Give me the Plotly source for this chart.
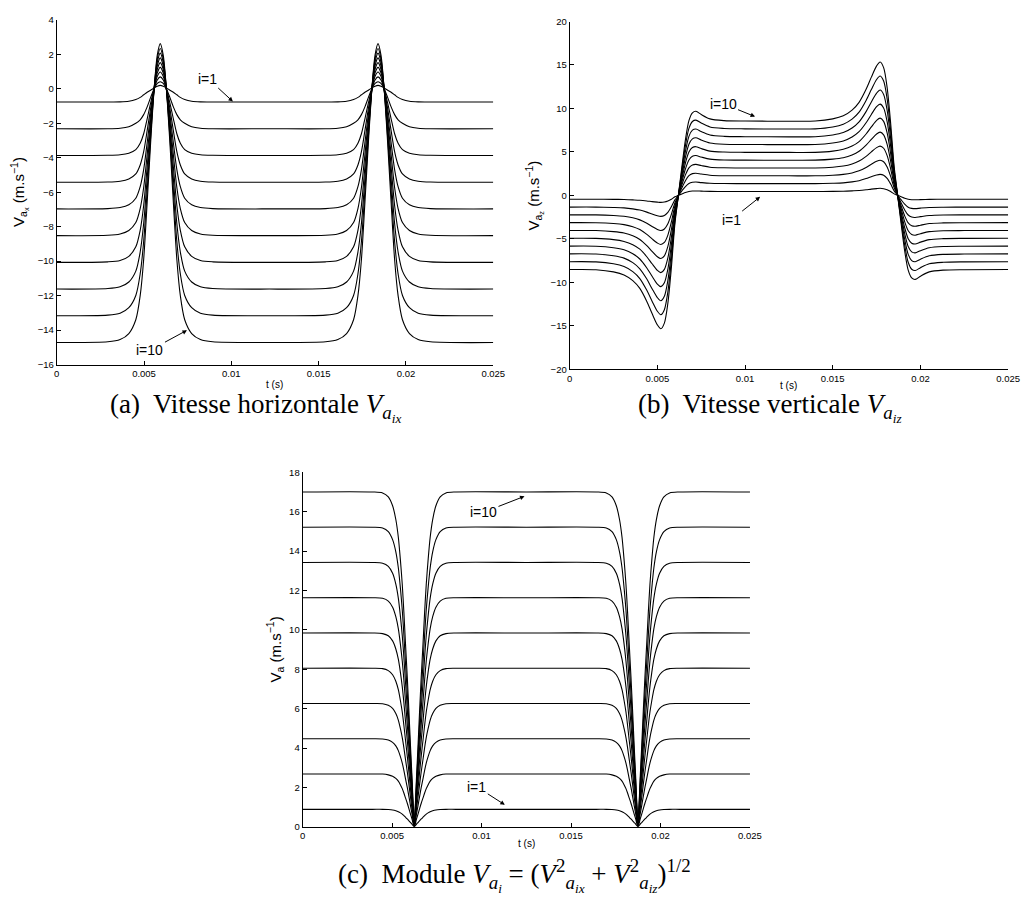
import plotly.graph_objects as go

# ---------------- (a) horizontal velocity V_a_x ----------------
T_A = [0, 0.00293, 0.00363, 0.00413, 0.00453, 0.00478, 0.00498, 0.00518, 0.00538, 0.00558, 0.00576,
       0.00593,
       0.0061, 0.00628, 0.00648, 0.00668, 0.00688, 0.00708, 0.00733, 0.00773, 0.00823, 0.00893,
       0.01217,
       0.0154, 0.0161, 0.0166, 0.0170, 0.01725, 0.01745, 0.01765, 0.01785, 0.01805, 0.01823,
       0.0184,
       0.01857, 0.01875, 0.01895, 0.01915, 0.01935, 0.01955, 0.0198, 0.0202, 0.0207, 0.0214,
       0.025]

VAX_I1 = [-0.77, -0.77, -0.76, -0.72, -0.62, -0.50, -0.35, -0.20, -0.08, 0.05, 0.15, 0.20, 0.15, 0.05, -0.08, -0.20, -0.35, -0.50, -0.62, -0.72, -0.76, -0.77,
          -0.77, -0.77, -0.76, -0.72, -0.62, -0.50, -0.35, -0.20, -0.08, 0.05, 0.15, 0.20, 0.15, 0.05, -0.08, -0.20, -0.35, -0.50, -0.62, -0.72, -0.76, -0.77, -0.77]
VAX_I2 = [-2.32, -2.32, -2.29, -2.20, -2.00, -1.80, -1.50, -1.05, -0.50, 0.00, 0.31, 0.41, 0.31, 0.00, -0.50, -1.05, -1.50, -1.80, -2.00, -2.20, -2.29, -2.32,
          -2.32, -2.32, -2.29, -2.20, -2.00, -1.80, -1.50, -1.05, -0.50, 0.00, 0.31, 0.41, 0.31, 0.00, -0.50, -1.05, -1.50, -1.80, -2.00, -2.20, -2.29, -2.32, -2.32]
VAX_I3 = [-3.87, -3.86, -3.83, -3.74, -3.53, -3.16, -2.61, -1.74, -0.82, 0.00, 0.51, 0.69, 0.51, 0.00, -0.82, -1.74, -2.61, -3.16, -3.53, -3.74, -3.83, -3.86,
          -3.87, -3.86, -3.83, -3.74, -3.53, -3.16, -2.61, -1.74, -0.82, 0.00, 0.51, 0.69, 0.51, 0.00, -0.82, -1.74, -2.61, -3.16, -3.53, -3.74, -3.83, -3.86, -3.87]
VAX_I4 = [-5.42, -5.41, -5.36, -5.23, -4.94, -4.42, -3.65, -2.43, -1.14, 0.00, 0.72, 0.97, 0.72, 0.00, -1.14, -2.43, -3.65, -4.42, -4.94, -5.23, -5.36, -5.41,
          -5.42, -5.41, -5.36, -5.23, -4.94, -4.42, -3.65, -2.43, -1.14, 0.00, 0.72, 0.97, 0.72, 0.00, -1.14, -2.43, -3.65, -4.42, -4.94, -5.23, -5.36, -5.41, -5.42]
VAX_I5 = [-6.97, -6.95, -6.89, -6.73, -6.35, -5.68, -4.69, -3.13, -1.47, 0.00, 0.92, 1.24, 0.92, 0.00, -1.47, -3.13, -4.69, -5.68, -6.35, -6.73, -6.89, -6.95,
          -6.97, -6.95, -6.89, -6.73, -6.35, -5.68, -4.69, -3.13, -1.47, 0.00, 0.92, 1.24, 0.92, 0.00, -1.47, -3.13, -4.69, -5.68, -6.35, -6.73, -6.89, -6.95, -6.97]
VAX_I6 = [-8.52, -8.50, -8.42, -8.22, -7.76, -6.95, -5.73, -3.82, -1.79, 0.00, 1.13, 1.52, 1.13, 0.00, -1.79, -3.82, -5.73, -6.95, -7.76, -8.22, -8.42, -8.50,
          -8.52, -8.50, -8.42, -8.22, -7.76, -6.95, -5.73, -3.82, -1.79, 0.00, 1.13, 1.52, 1.13, 0.00, -1.79, -3.82, -5.73, -6.95, -7.76, -8.22, -8.42, -8.50, -8.52]
VAX_I7 = [-10.07, -10.04, -9.96, -9.72, -9.17, -8.21, -6.77, -4.52, -2.12, 0.00, 1.33, 1.79, 1.33, 0.00, -2.12, -4.52, -6.77, -8.21, -9.17, -9.72, -9.96, -10.04,
          -10.07, -10.04, -9.96, -9.72, -9.17, -8.21, -6.77, -4.52, -2.12, 0.00, 1.33, 1.79, 1.33, 0.00, -2.12, -4.52, -6.77, -8.21, -9.17, -9.72, -9.96, -10.04, -10.07]
VAX_I8 = [-11.62, -11.59, -11.49, -11.21, -10.58, -9.47, -7.82, -5.21, -2.45, 0.00, 1.54, 2.07, 1.54, 0.00, -2.45, -5.21, -7.82, -9.47, -10.58, -11.21, -11.49, -11.59,
          -11.62, -11.59, -11.49, -11.21, -10.58, -9.47, -7.82, -5.21, -2.45, 0.00, 1.54, 2.07, 1.54, 0.00, -2.45, -5.21, -7.82, -9.47, -10.58, -11.21, -11.49, -11.59, -11.62]
VAX_I9 = [-13.17, -13.13, -13.02, -12.70, -11.99, -10.74, -8.86, -5.91, -2.77, 0.00, 1.74, 2.34, 1.74, 0.00, -2.77, -5.91, -8.86, -10.74, -11.99, -12.70, -13.02, -13.13,
          -13.17, -13.13, -13.02, -12.70, -11.99, -10.74, -8.86, -5.91, -2.77, 0.00, 1.74, 2.34, 1.74, 0.00, -2.77, -5.91, -8.86, -10.74, -11.99, -12.70, -13.02, -13.13, -13.17]
VAX_I10 = [-14.72, -14.68, -14.55, -14.20, -13.40, -12.00, -9.90, -6.60, -3.10, 0.00, 1.95, 2.62, 1.95, 0.00, -3.10, -6.60, -9.90, -12.00, -13.40, -14.20, -14.55, -14.68,
           -14.72, -14.68, -14.55, -14.20, -13.40, -12.00, -9.90, -6.60, -3.10, 0.00, 1.95, 2.62, 1.95, 0.00, -3.10, -6.60, -9.90, -12.00, -13.40, -14.20, -14.55, -14.68, -14.72]

# ---------------- (b) vertical velocity V_a_z ----------------
T_B = [0, 0.0015, 0.0025, 0.0031, 0.0036, 0.0040, 0.0044, 0.0047, 0.0050, 0.0052, 0.0054, 0.0056,
       0.0058, 0.0060, 0.0062, 0.0064, 0.0066, 0.0068, 0.0070, 0.0072, 0.0075, 0.0080, 0.0088, 0.0100,
       0.0125, 0.0140, 0.0150, 0.0156, 0.0161, 0.0165, 0.0169, 0.0172, 0.0175, 0.0177, 0.0179, 0.0181,
       0.0183, 0.0185, 0.0187, 0.0189, 0.0191, 0.0193, 0.0195, 0.0197, 0.0200, 0.0205, 0.0213, 0.0225,
       0.025]

VAZ_I1 = [-0.45, -0.45, -0.46, -0.48, -0.52, -0.56, -0.64, -0.72, -0.78, -0.81, -0.77, -0.65, -0.44, -0.17, 0.00, 0.17, 0.34, 0.45, 0.50, 0.51, 0.49, 0.46, 0.45, 0.45,
          0.45, 0.45, 0.46, 0.48, 0.52, 0.56, 0.64, 0.72, 0.78, 0.81, 0.77, 0.65, 0.44, 0.17, 0.00, -0.17, -0.34, -0.45, -0.50, -0.51, -0.49, -0.46, -0.45, -0.45, -0.45]
VAZ_I2 = [-1.35, -1.35, -1.39, -1.44, -1.55, -1.69, -1.93, -2.15, -2.35, -2.42, -2.32, -1.96, -1.31, -0.52, 0.00, 0.52, 1.01, 1.36, 1.50, 1.53, 1.47, 1.39, 1.36, 1.35,
          1.35, 1.35, 1.39, 1.44, 1.55, 1.69, 1.93, 2.15, 2.35, 2.42, 2.32, 1.96, 1.31, 0.52, 0.00, -0.52, -1.01, -1.36, -1.50, -1.53, -1.47, -1.39, -1.36, -1.35, -1.35]
VAZ_I3 = [-2.25, -2.25, -2.32, -2.41, -2.58, -2.82, -3.21, -3.58, -3.92, -4.04, -3.87, -3.26, -2.18, -0.87, 0.00, 0.87, 1.68, 2.26, 2.50, 2.54, 2.45, 2.32, 2.26, 2.25,
          2.25, 2.25, 2.32, 2.41, 2.58, 2.82, 3.21, 3.58, 3.92, 4.04, 3.87, 3.26, 2.18, 0.87, 0.00, -0.87, -1.68, -2.26, -2.50, -2.54, -2.45, -2.32, -2.26, -2.25, -2.25]
VAZ_I4 = [-3.14, -3.15, -3.24, -3.37, -3.61, -3.94, -4.49, -5.01, -5.49, -5.66, -5.42, -4.57, -3.06, -1.22, 0.00, 1.22, 2.36, 3.17, 3.50, 3.56, 3.43, 3.24, 3.17, 3.15,
          3.14, 3.15, 3.24, 3.37, 3.61, 3.94, 4.49, 5.01, 5.49, 5.66, 5.42, 4.57, 3.06, 1.22, 0.00, -1.22, -2.36, -3.17, -3.50, -3.56, -3.43, -3.24, -3.17, -3.15, -3.14]
VAZ_I5 = [-4.04, -4.05, -4.17, -4.33, -4.64, -5.07, -5.78, -6.44, -7.06, -7.27, -6.96, -5.87, -3.93, -1.56, 0.00, 1.56, 3.03, 4.07, 4.50, 4.58, 4.41, 4.17, 4.07, 4.05,
          4.04, 4.05, 4.17, 4.33, 4.64, 5.07, 5.78, 6.44, 7.06, 7.27, 6.96, 5.87, 3.93, 1.56, 0.00, -1.56, -3.03, -4.07, -4.50, -4.58, -4.41, -4.17, -4.07, -4.05, -4.04]
VAZ_I6 = [-4.94, -4.95, -5.09, -5.30, -5.67, -6.19, -7.06, -7.87, -8.63, -8.89, -8.51, -7.18, -4.81, -1.91, 0.00, 1.91, 3.71, 4.98, 5.50, 5.60, 5.38, 5.09, 4.98, 4.95,
          4.94, 4.95, 5.09, 5.30, 5.67, 6.19, 7.06, 7.87, 8.63, 8.89, 8.51, 7.18, 4.81, 1.91, 0.00, -1.91, -3.71, -4.98, -5.50, -5.60, -5.38, -5.09, -4.98, -4.95, -4.94]
VAZ_I7 = [-5.84, -5.85, -6.02, -6.26, -6.71, -7.32, -8.35, -9.31, -10.20, -10.50, -10.06, -8.48, -5.68, -2.26, 0.00, 2.26, 4.38, 5.88, 6.50, 6.62, 6.36, 6.02, 5.88, 5.85,
          5.84, 5.85, 6.02, 6.26, 6.71, 7.32, 8.35, 9.31, 10.20, 10.50, 10.06, 8.48, 5.68, 2.26, 0.00, -2.26, -4.38, -5.88, -6.50, -6.62, -6.36, -6.02, -5.88, -5.85, -5.84]
VAZ_I8 = [-6.73, -6.75, -6.95, -7.22, -7.74, -8.45, -9.63, -10.74, -11.76, -12.12, -11.61, -9.79, -6.55, -2.61, 0.00, 2.61, 5.05, 6.79, 7.50, 7.63, 7.34, 6.95, 6.79, 6.75,
          6.73, 6.75, 6.95, 7.22, 7.74, 8.45, 9.63, 10.74, 11.76, 12.12, 11.61, 9.79, 6.55, 2.61, 0.00, -2.61, -5.05, -6.79, -7.50, -7.63, -7.34, -6.95, -6.79, -6.75, -6.73]
VAZ_I9 = [-7.63, -7.65, -7.87, -8.19, -8.77, -9.57, -10.92, -12.17, -13.33, -13.73, -13.15, -11.10, -7.43, -2.95, 0.00, 2.95, 5.73, 7.70, 8.50, 8.65, 8.32, 7.87, 7.70, 7.65,
          7.63, 7.65, 7.87, 8.19, 8.77, 9.57, 10.92, 12.17, 13.33, 13.73, 13.15, 11.10, 7.43, 2.95, 0.00, -2.95, -5.73, -7.70, -8.50, -8.65, -8.32, -7.87, -7.70, -7.65, -7.63]
VAZ_I10 = [-8.53, -8.55, -8.80, -9.15, -9.80, -10.70, -12.20, -13.60, -14.90, -15.35, -14.70, -12.40, -8.30, -3.30, 0.00, 3.30, 6.40, 8.60, 9.50, 9.67, 9.30, 8.80, 8.60, 8.55,
           8.53, 8.55, 8.80, 9.15, 9.80, 10.70, 12.20, 13.60, 14.90, 15.35, 14.70, 12.40, 8.30, 3.30, 0.00, -3.30, -6.40, -8.60, -9.50, -9.67, -9.30, -8.80, -8.60, -8.55, -8.53]

# ---------------- (c) modulus V_a ----------------
T_C = [0,
       0.00391, 0.00447, 0.00479, 0.00503, 0.00521, 0.00535, 0.00547, 0.00557, 0.00566, 0.00575, 0.00585,
       0.00594, 0.00603, 0.00612, 0.00618, 0.00624,
       0.0063, 0.00636, 0.00645, 0.00654, 0.00663, 0.00673, 0.00682, 0.00691, 0.00701, 0.00713, 0.00727,
       0.00745, 0.00769, 0.00801, 0.00857,
       0.0125,
       0.01641, 0.01697, 0.01729, 0.01753, 0.01771, 0.01785, 0.01797, 0.01807, 0.01816, 0.01825, 0.01835,
       0.01844, 0.01853, 0.01862, 0.01868, 0.01874,
       0.0188, 0.01886, 0.01895, 0.01904, 0.01913, 0.01923, 0.01932, 0.01941, 0.01951, 0.01963, 0.01977,
       0.01995, 0.02019, 0.02051, 0.02107,
       0.025]

VA_I1 = [0.89, 0.89, 0.89, 0.88, 0.86, 0.82, 0.77, 0.71, 0.65, 0.57, 0.49, 0.40, 0.31, 0.22, 0.13, 0.06, 0.01,
         0.06, 0.13, 0.22, 0.31, 0.40, 0.49, 0.57, 0.65, 0.71, 0.77, 0.82, 0.86, 0.88, 0.89, 0.89, 0.89,
         0.89, 0.89, 0.88, 0.86, 0.82, 0.77, 0.71, 0.65, 0.57, 0.49, 0.40, 0.31, 0.22, 0.13, 0.06, 0.01,
         0.06, 0.13, 0.22, 0.31, 0.40, 0.49, 0.57, 0.65, 0.71, 0.77, 0.82, 0.86, 0.88, 0.89, 0.89, 0.89]
VA_I2 = [2.68, 2.68, 2.68, 2.64, 2.57, 2.46, 2.32, 2.13, 1.94, 1.72, 1.47, 1.20, 0.93, 0.65, 0.38, 0.17, 0.02,
         0.17, 0.38, 0.65, 0.93, 1.20, 1.47, 1.72, 1.94, 2.13, 2.32, 2.46, 2.57, 2.64, 2.68, 2.68, 2.68,
         2.68, 2.68, 2.64, 2.57, 2.46, 2.32, 2.13, 1.94, 1.72, 1.47, 1.20, 0.93, 0.65, 0.38, 0.17, 0.02,
         0.17, 0.38, 0.65, 0.93, 1.20, 1.47, 1.72, 1.94, 2.13, 2.32, 2.46, 2.57, 2.64, 2.68, 2.68, 2.68]
VA_I3 = [4.47, 4.47, 4.46, 4.41, 4.29, 4.11, 3.87, 3.55, 3.24, 2.87, 2.45, 2.00, 1.55, 1.08, 0.63, 0.29, 0.03,
         0.29, 0.63, 1.08, 1.55, 2.00, 2.45, 2.87, 3.24, 3.55, 3.87, 4.11, 4.29, 4.41, 4.46, 4.47, 4.47,
         4.47, 4.46, 4.41, 4.29, 4.11, 3.87, 3.55, 3.24, 2.87, 2.45, 2.00, 1.55, 1.08, 0.63, 0.29, 0.03,
         0.29, 0.63, 1.08, 1.55, 2.00, 2.45, 2.87, 3.24, 3.55, 3.87, 4.11, 4.29, 4.41, 4.46, 4.47, 4.47]
VA_I4 = [6.26, 6.26, 6.25, 6.17, 6.01, 5.75, 5.42, 4.97, 4.53, 4.02, 3.43, 2.80, 2.17, 1.51, 0.88, 0.41, 0.04,
         0.41, 0.88, 1.51, 2.17, 2.80, 3.43, 4.02, 4.53, 4.97, 5.42, 5.75, 6.01, 6.17, 6.25, 6.26, 6.26,
         6.26, 6.25, 6.17, 6.01, 5.75, 5.42, 4.97, 4.53, 4.02, 3.43, 2.80, 2.17, 1.51, 0.88, 0.41, 0.04,
         0.41, 0.88, 1.51, 2.17, 2.80, 3.43, 4.02, 4.53, 4.97, 5.42, 5.75, 6.01, 6.17, 6.25, 6.26, 6.26]
VA_I5 = [8.05, 8.05, 8.03, 7.93, 7.72, 7.39, 6.96, 6.39, 5.83, 5.16, 4.41, 3.60, 2.79, 1.94, 1.14, 0.52, 0.06,
         0.52, 1.14, 1.94, 2.79, 3.60, 4.41, 5.16, 5.83, 6.39, 6.96, 7.39, 7.72, 7.93, 8.03, 8.05, 8.05,
         8.05, 8.03, 7.93, 7.72, 7.39, 6.96, 6.39, 5.83, 5.16, 4.41, 3.60, 2.79, 1.94, 1.14, 0.52, 0.06,
         0.52, 1.14, 1.94, 2.79, 3.60, 4.41, 5.16, 5.83, 6.39, 6.96, 7.39, 7.72, 7.93, 8.03, 8.05, 8.05]
VA_I6 = [9.84, 9.84, 9.81, 9.70, 9.44, 9.03, 8.51, 7.82, 7.12, 6.31, 5.38, 4.40, 3.42, 2.37, 1.39, 0.64, 0.07,
         0.64, 1.39, 2.37, 3.42, 4.40, 5.38, 6.31, 7.12, 7.82, 8.51, 9.03, 9.44, 9.70, 9.81, 9.84, 9.84,
         9.84, 9.81, 9.70, 9.44, 9.03, 8.51, 7.82, 7.12, 6.31, 5.38, 4.40, 3.42, 2.37, 1.39, 0.64, 0.07,
         0.64, 1.39, 2.37, 3.42, 4.40, 5.38, 6.31, 7.12, 7.82, 8.51, 9.03, 9.44, 9.70, 9.81, 9.84, 9.84]
VA_I7 = [11.63, 11.63, 11.60, 11.46, 11.15, 10.67, 10.06, 9.24, 8.42, 7.46, 6.36, 5.20, 4.04, 2.81, 1.64, 0.75, 0.08,
         0.75, 1.64, 2.81, 4.04, 5.20, 6.36, 7.46, 8.42, 9.24, 10.06, 10.67, 11.15, 11.46, 11.60, 11.63, 11.63,
         11.63, 11.60, 11.46, 11.15, 10.67, 10.06, 9.24, 8.42, 7.46, 6.36, 5.20, 4.04, 2.81, 1.64, 0.75, 0.08,
         0.75, 1.64, 2.81, 4.04, 5.20, 6.36, 7.46, 8.42, 9.24, 10.06, 10.67, 11.15, 11.46, 11.60, 11.63, 11.63]
VA_I8 = [13.42, 13.42, 13.38, 13.22, 12.87, 12.32, 11.61, 10.66, 9.71, 8.61, 7.34, 6.00, 4.66, 3.24, 1.89, 0.87, 0.09,
         0.87, 1.89, 3.24, 4.66, 6.00, 7.34, 8.61, 9.71, 10.66, 11.61, 12.32, 12.87, 13.22, 13.38, 13.42, 13.42,
         13.42, 13.38, 13.22, 12.87, 12.32, 11.61, 10.66, 9.71, 8.61, 7.34, 6.00, 4.66, 3.24, 1.89, 0.87, 0.09,
         0.87, 1.89, 3.24, 4.66, 6.00, 7.34, 8.61, 9.71, 10.66, 11.61, 12.32, 12.87, 13.22, 13.38, 13.42, 13.42]
VA_I9 = [15.21, 15.21, 15.17, 14.99, 14.58, 13.96, 13.15, 12.08, 11.01, 9.75, 8.32, 6.80, 5.28, 3.67, 2.15, 0.98, 0.11,
         0.98, 2.15, 3.67, 5.28, 6.80, 8.32, 9.75, 11.01, 12.08, 13.15, 13.96, 14.58, 14.99, 15.17, 15.21, 15.21,
         15.21, 15.17, 14.99, 14.58, 13.96, 13.15, 12.08, 11.01, 9.75, 8.32, 6.80, 5.28, 3.67, 2.15, 0.98, 0.11,
         0.98, 2.15, 3.67, 5.28, 6.80, 8.32, 9.75, 11.01, 12.08, 13.15, 13.96, 14.58, 14.99, 15.17, 15.21, 15.21]
VA_I10 = [17.00, 17.00, 16.95, 16.75, 16.30, 15.60, 14.70, 13.50, 12.30, 10.90, 9.30, 7.60, 5.90, 4.10, 2.40, 1.10, 0.12,
          1.10, 2.40, 4.10, 5.90, 7.60, 9.30, 10.90, 12.30, 13.50, 14.70, 15.60, 16.30, 16.75, 16.95, 17.00, 17.00,
          17.00, 16.95, 16.75, 16.30, 15.60, 14.70, 13.50, 12.30, 10.90, 9.30, 7.60, 5.90, 4.10, 2.40, 1.10, 0.12,
          1.10, 2.40, 4.10, 5.90, 7.60, 9.30, 10.90, 12.30, 13.50, 14.70, 15.60, 16.30, 16.75, 16.95, 17.00, 17.00]

X_TICKS = [0, 0.005, 0.01, 0.015, 0.02, 0.025]
X_TICKTEXT = ["0", "0.005", "0.01", "0.015", "0.02", "0.025"]
YA_TICKS = [4, 2, 0, -2, -4, -6, -8, -10, -12, -14, -16]
YB_TICKS = [20, 15, 10, 5, 0, -5, -10, -15, -20]
YC_TICKS = [0, 2, 4, 6, 8, 10, 12, 14, 16, 18]

W, H = 1032, 902
SANS = "Liberation Sans, Arial, Helvetica, sans-serif"
SERIF = "Liberation Serif, Times New Roman, serif"

fig = go.Figure()
line = dict(color="black", width=1.1, shape="spline", smoothing=0.8)
for row in [VAX_I1, VAX_I2, VAX_I3, VAX_I4, VAX_I5, VAX_I6, VAX_I7, VAX_I8, VAX_I9, VAX_I10]:
    fig.add_trace(go.Scatter(x=T_A, y=row, mode="lines", line=line, xaxis="x", yaxis="y", hoverinfo="skip"))
for row in [VAZ_I1, VAZ_I2, VAZ_I3, VAZ_I4, VAZ_I5, VAZ_I6, VAZ_I7, VAZ_I8, VAZ_I9, VAZ_I10]:
    fig.add_trace(go.Scatter(x=T_B, y=row, mode="lines", line=line, xaxis="x2", yaxis="y2", hoverinfo="skip"))
for row in [VA_I1, VA_I2, VA_I3, VA_I4, VA_I5, VA_I6, VA_I7, VA_I8, VA_I9, VA_I10]:
    fig.add_trace(go.Scatter(x=T_C, y=row, mode="lines", line=line, xaxis="x3", yaxis="y3", hoverinfo="skip"))


def fmt(v):
    return str(v).replace("-", "\u2212")


def xax(domain, anchor):
    return dict(domain=domain, anchor=anchor, range=[0, 0.025], tickvals=X_TICKS, ticktext=X_TICKTEXT,
                ticks="inside", ticklen=4, tickwidth=1, tickcolor="black", showline=True, linecolor="black",
                linewidth=1, showgrid=False, zeroline=False, tickfont=dict(family=SANS, size=9.5, color="black"),
                fixedrange=True)


def yax(domain, anchor, rng, ticks):
    return dict(domain=domain, anchor=anchor, range=rng, tickvals=ticks, ticktext=[fmt(t) for t in ticks],
                ticks="inside", ticklen=4, tickwidth=1, tickcolor="black", showline=True, linecolor="black",
                linewidth=1, showgrid=False, zeroline=False, tickfont=dict(family=SANS, size=9.5, color="black"),
                fixedrange=True)


def px_x(p):
    return p / W


def px_y(p):
    return 1 - p / H


fig.update_layout(
    width=W, height=H, margin=dict(l=0, r=0, t=0, b=0),
    paper_bgcolor="white", plot_bgcolor="white", showlegend=False,
    xaxis=xax([px_x(54.5), px_x(497.5)], "y"),
    yaxis=yax([px_y(363), px_y(14)], "x", [-16, 4], YA_TICKS),
    xaxis2=xax([px_x(575), px_x(1020)], "y2"),
    yaxis2=yax([px_y(367.7), px_y(15.7)], "x2", [-20, 20], YB_TICKS),
    xaxis3=xax([px_x(304), px_x(758)], "y3"),
    yaxis3=yax([px_y(831), px_y(472)], "x3", [0, 18], YC_TICKS),
)

ann = []
# arrows with labels
arrow_style = dict(showarrow=True, arrowhead=2, arrowsize=0.9, arrowwidth=1, arrowcolor="black",
                   font=dict(family=SANS, size=14, color="black"), axref="pixel", ayref="pixel")
ann.append(dict(text="i=1", x=0.01009, y=-0.74, xref="x", yref="y", ax=-25, ay=-23, **arrow_style))
ann.append(dict(text="i=10", x=0.00746, y=-14.01, xref="x", yref="y", ax=-37, ay=20, **arrow_style))
ann.append(dict(text="i=10", x=0.01057, y=9.06, xref="x2", yref="y2", ax=-32, ay=-13, **arrow_style))
ann.append(dict(text="i=1", x=0.01086, y=-0.17, xref="x2", yref="y2", ax=-29, ay=23, **arrow_style))
ann.append(dict(text="i=10", x=0.0124, y=16.78, xref="x3", yref="y3", ax=-41, ay=16, **arrow_style))
ann.append(dict(text="i=1", x=0.0113, y=1.12, xref="x3", yref="y3", ax=-28, ay=-18, **arrow_style))

# axis titles
for cx, cy in [(276, 383), (797.5, 384), (531, 848)]:
    ann.append(dict(text="t (s)", x=px_x(cx), y=px_y(cy), xref="paper", yref="paper", showarrow=False,
                    xanchor="center", yanchor="middle", font=dict(family=SANS, size=10, color="black")))
ytitles = [
    ("V<sub>a<sub>x</sub></sub> (m.s<sup>\u22121</sup>)", 17, 188.5),
    ("V<sub>a<sub>z</sub></sub> (m.s<sup>\u22121</sup>)", 540, 191.7),
    ("V<sub>a</sub> (m.s<sup>\u22121</sup>)", 276, 651.5),
]
for txt, cx, cy in ytitles:
    ann.append(dict(text=txt, x=px_x(cx), y=px_y(cy), xref="paper", yref="paper", showarrow=False,
                    textangle=-90, xanchor="center", yanchor="middle",
                    font=dict(family=SANS, size=15, color="black")))

# captions
captions = [
    ("(a)  Vitesse horizontale <i>V</i><sub><i>a</i><sub><i>ix</i></sub></sub>", 256, 406),
    ("(b)  Vitesse verticale <i>V</i><sub><i>a</i><sub><i>iz</i></sub></sub>", 778, 406),
    ("(c)  Module <i>V</i><sub><i>a</i><sub><i>i</i></sub></sub> = (<i>V</i><sup>2</sup><sub><i>a</i><sub><i>ix</i></sub></sub>"
     " + <i>V</i><sup>2</sup><sub><i>a</i><sub><i>iz</i></sub></sub>)<sup>1/2</sup>", 519, 880),
]
for txt, cx, cy in captions:
    ann.append(dict(text=txt, x=px_x(cx), y=px_y(cy), xref="paper", yref="paper", showarrow=False,
                    xanchor="center", yanchor="middle", font=dict(family=SERIF, size=27, color="black")))

fig.update_layout(annotations=ann)
fig.write_html("out.html", config={"displayModeBar": False})
